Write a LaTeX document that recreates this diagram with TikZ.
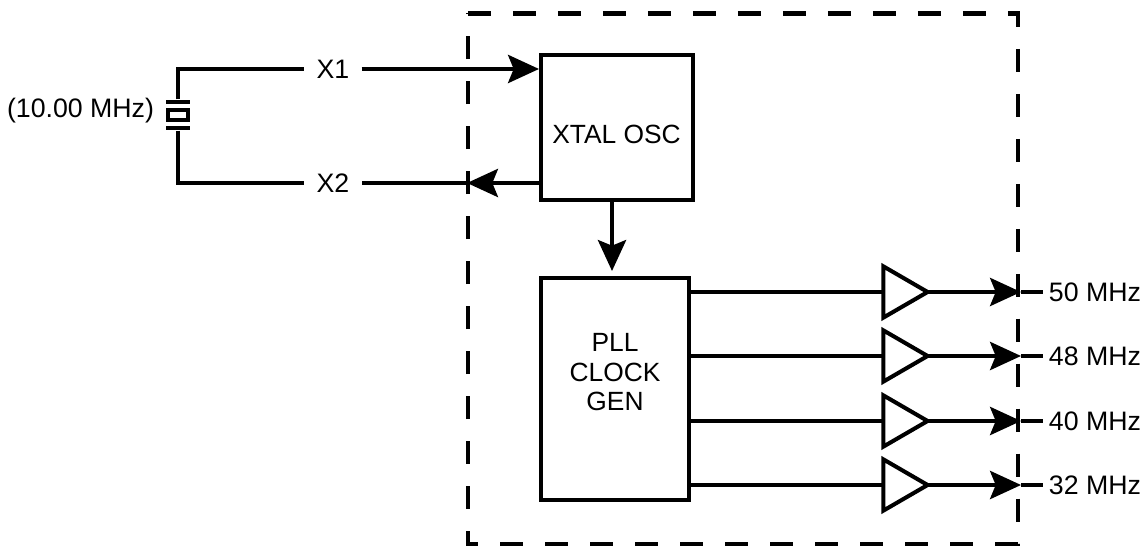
\documentclass[tikz,border=0pt]{standalone}
\usepackage{fontspec}
\setmainfont{Liberation Sans}
\usetikzlibrary{arrows.meta,shapes.geometric}
\tikzset{
  wire/.style={line width=1.15pt,black},
  arrowwire/.style={wire,-{Stealth[length=8.8pt,width=8pt,inset=1.6pt]}},
  block/.style={draw,line width=1.15pt,inner sep=0pt},
  blocktext/.style={align=center,inner sep=0pt,font=\fontsize{7.5}{8.4}\selectfont},
  buffer/.style={draw,line width=1.15pt,isosceles triangle,isosceles triangle apex angle=60,isosceles triangle stretches,inner sep=0pt,outer sep=0pt,minimum height=12.6pt,minimum width=14.6pt,anchor=lower side},
  plate/.style={fill=black,inner sep=0pt,minimum width=6.6pt,minimum height=1.15pt},
  lbl/.style={inner sep=1.5pt,font=\fontsize{7.6}{9}\selectfont},
  pinlbl/.style={lbl,inner sep=3.3pt},
  border/.style={line width=1.15pt,dash pattern=on 6.5pt off 6.3pt},
}
\begin{document}
\begin{tikzpicture}
\useasboundingbox (0,0) rectangle (11.44,5.46);

%---------------------------------------------------
\draw[border] (4.68,5.325) -- (10.175,5.325) -- (10.175,0.02) -- (4.68,0.02) -- cycle;

%---------------------------------------------------
\node[block,minimum width=1.52cm,minimum height=1.45cm] (xtal) at (6.17,4.185) {};
\node[block,minimum width=1.48cm,minimum height=2.22cm] (pll) at (6.15,1.57) {};
\node[blocktext] (xtaltext) at (6.165,4.12) {XTAL OSC};
\node[blocktext] (plltext) at (6.15,1.735) {PLL\\CLOCK\\GEN};
\coordinate (xtalout) at (6.12,3.46);
\coordinate (pllin) at (6.12,2.75);
\draw[arrowwire] (xtalout) -- (pllin);

%---------------------------------------------------
\node[plate] (plate1) at (1.78,4.44) {};
\node[plate] (plate2) at (1.78,4.18) {};
\node[draw,line width=1.15pt,inner sep=0pt,minimum width=5.5pt,minimum height=2.6pt] (quartz) at (1.78,4.31) {};
\node[lbl,anchor=east] (freq) at (1.60,4.35) {(10.00 MHz)};

\node[pinlbl] (x1) at (3.33,4.77) {X1};
\node[pinlbl] (x2) at (3.33,3.63) {X2};
\coordinate (x1in) at (5.39,4.77);
\coordinate (x2in) at (5.41,3.63);
\coordinate (x2tip) at (4.67,3.63);
\draw[wire] (plate1) |- (x1);
\draw[wire] (plate2) |- (x2);
\draw[arrowwire] (x1) -- (x1in);
\draw[arrowwire] (x2in) -- (x2tip);
\draw[wire] (x2tip) -- (x2);

%---------------------------------------------------
\node[buffer] (buf1) at (8.833,2.54) {};
\node[buffer] (buf2) at (8.833,1.90) {};
\node[buffer] (buf3) at (8.833,1.25) {};
\node[buffer] (buf4) at (8.833,0.61) {};

\draw[wire] (pll.east |- buf1.lower side) -- (buf1.lower side);
\draw[wire] (pll.east |- buf2.lower side) -- (buf2.lower side);
\draw[wire] (pll.east |- buf3.lower side) -- (buf3.lower side);
\draw[wire] (pll.east |- buf4.lower side) -- (buf4.lower side);

\node[lbl,anchor=west] (out1) at (10.43,2.54) {50 MHz};
\node[lbl,anchor=west] (out2) at (10.43,1.90) {48 MHz};
\node[lbl,anchor=west] (out3) at (10.43,1.25) {40 MHz};
\node[lbl,anchor=west] (out4) at (10.43,0.61) {32 MHz};

\coordinate (tip1) at (10.21,2.54);
\coordinate (tip2) at (10.21,1.90);
\coordinate (tip3) at (10.21,1.25);
\coordinate (tip4) at (10.21,0.61);
\draw[arrowwire] (buf1.apex) -- (tip1);
\draw[arrowwire] (buf2.apex) -- (tip2);
\draw[arrowwire] (buf3.apex) -- (tip3);
\draw[arrowwire] (buf4.apex) -- (tip4);
\draw[wire] (tip1) -- (out1);
\draw[wire] (tip2) -- (out2);
\draw[wire] (tip3) -- (out3);
\draw[wire] (tip4) -- (out4);
\end{tikzpicture}
\end{document}
